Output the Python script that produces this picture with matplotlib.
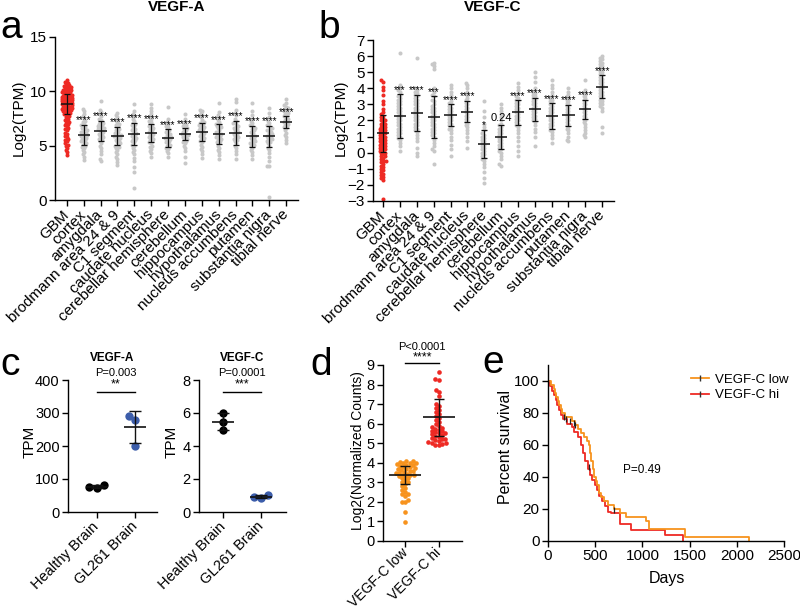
import numpy as np
import matplotlib
matplotlib.use('Agg')
import matplotlib.pyplot as plt
from matplotlib.lines import Line2D

plt.rcParams['font.family'] = ['Liberation Sans', 'DejaVu Sans']

tissues = ['GBM', 'cortex', 'amygdala', 'brodmann area 24 & 9', 'C1 segment',
           'caudate nucleus', 'cerebellar hemisphere', 'cerebellum', 'hippocampus',
           'hypothalamus', 'nucleus accumbens', 'putamen', 'substantia nigra',
           'tibial nerve']

# ---- panel a : VEGF-A log2(TPM) ----
a_gbm = [11.0, 10.9, 10.8, 10.7, 10.6, 10.5, 10.5, 10.4, 10.3, 10.3, 10.2, 10.1, 10.1, 10.0,
         10.0, 9.9, 9.9, 9.8, 9.8, 9.7, 9.7, 9.6, 9.6, 9.5, 9.5, 9.5, 9.4, 9.4, 9.3, 9.3,
         9.3, 9.2, 9.2, 9.1, 9.1, 9.1, 9.0, 9.0, 9.0, 8.9, 8.9, 8.9, 8.8, 8.8, 8.8, 8.7,
         8.7, 8.6, 8.6, 8.6, 8.5, 8.5, 8.4, 8.4, 8.3, 8.3, 8.2, 8.2, 8.1, 8.0, 8.0, 7.9,
         7.8, 7.7, 7.6, 7.5, 7.4, 7.3, 7.2, 7.1, 7.0, 6.9, 6.8, 6.6, 6.5, 6.4, 6.2, 6.1,
         5.9, 5.8, 5.6, 5.5, 5.4, 5.2, 5.1, 5.0, 4.8, 4.6, 4.4, 4.1]
a_cortex = [8.4, 8.2, 7.9, 7.7, 7.5, 7.3, 7.2, 7.0, 6.9, 6.8, 6.7, 6.6, 6.5, 6.4, 6.3, 6.3,
            6.2, 6.1, 6.0, 6.0, 5.9, 5.8, 5.7, 5.6, 5.5, 5.4, 5.3, 5.2, 5.1, 5.0, 4.9, 4.8,
            4.6, 4.4, 4.2, 4.0, 3.7]
a_amygdala = [9.1, 8.3, 8.1, 7.9, 7.7, 7.5, 7.4, 7.2, 7.1, 7.0, 6.9, 6.8, 6.7, 6.6, 6.5, 6.5,
              6.4, 6.3, 6.2, 6.1, 6.0, 5.9, 5.8, 5.7, 5.6, 5.5, 5.4, 5.2, 5.0, 4.8, 4.5, 4.2,
              3.8, 3.6]
a_brodmann = [8.0, 7.8, 7.6, 7.4, 7.2, 7.0, 6.9, 6.8, 6.6, 6.5, 6.4, 6.3, 6.2, 6.1, 6.0, 5.9,
              5.9, 5.8, 5.7, 5.6, 5.5, 5.4, 5.3, 5.2, 5.1, 5.0, 4.9, 4.8, 4.6, 4.4, 4.2, 4.0,
              3.8, 3.5, 3.2]
a_c1 = [8.8, 8.2, 7.9, 7.7, 7.5, 7.3, 7.1, 7.0, 6.9, 6.8, 6.6, 6.5, 6.4, 6.3, 6.2, 6.1, 6.0,
        5.9, 5.8, 5.7, 5.6, 5.5, 5.4, 5.3, 5.1, 5.0, 4.8, 4.6, 4.4, 4.2, 3.9, 3.6, 3.0, 2.6, 1.1]
a_caudate = [8.8, 8.5, 8.2, 7.9, 7.7, 7.5, 7.3, 7.2, 7.0, 6.9, 6.8, 6.7, 6.6, 6.5, 6.4, 6.3,
             6.2, 6.1, 6.0, 5.9, 5.8, 5.7, 5.6, 5.5, 5.4, 5.3, 5.2, 5.0, 4.9, 4.7, 4.5, 4.3, 4.0]
a_cereb_hemi = [8.6, 7.5, 7.2, 7.0, 6.8, 6.7, 6.5, 6.4, 6.3, 6.2, 6.1, 6.0, 5.9, 5.8, 5.7, 5.7,
                5.6, 5.5, 5.4, 5.3, 5.2, 5.1, 5.0, 4.9, 4.8, 4.7, 4.5, 4.3, 4.0]
a_cerebellum = [7.9, 7.5, 7.2, 7.0, 6.9, 6.8, 6.7, 6.6, 6.5, 6.4, 6.3, 6.2, 6.1, 6.0, 6.0, 5.9,
                5.8, 5.7, 5.6, 5.5, 5.4, 5.3, 5.2, 5.0, 4.8, 4.5, 4.0, 3.4]
a_hippo = [8.3, 8.2, 8.0, 7.8, 7.6, 7.4, 7.2, 7.1, 7.0, 6.9, 6.8, 6.7, 6.6, 6.5, 6.4, 6.3, 6.2,
           6.1, 6.0, 5.9, 5.8, 5.7, 5.6, 5.5, 5.4, 5.3, 5.1, 4.9, 4.7, 4.5, 4.2, 3.9]
a_hypo = [8.9, 8.1, 7.8, 7.6, 7.4, 7.2, 7.0, 6.9, 6.8, 6.7, 6.6, 6.4, 6.3, 6.2, 6.1, 6.0, 5.9,
          5.8, 5.7, 5.6, 5.5, 5.4, 5.3, 5.2, 5.0, 4.8, 4.6, 4.4, 4.1, 3.8]
a_nacc = [9.3, 9.0, 8.3, 8.0, 7.8, 7.5, 7.3, 7.1, 7.0, 6.8, 6.7, 6.6, 6.5, 6.4, 6.3, 6.2, 6.1,
          6.0, 5.9, 5.8, 5.7, 5.6, 5.5, 5.4, 5.2, 5.0, 4.8, 4.5, 4.2, 3.8]
a_putamen = [8.9, 8.2, 7.8, 7.5, 7.3, 7.1, 6.9, 6.8, 6.6, 6.5, 6.4, 6.3, 6.2, 6.0, 5.9, 5.8,
             5.7, 5.6, 5.5, 5.4, 5.3, 5.2, 5.1, 5.0, 4.8, 4.6, 4.4, 4.1, 3.8]
a_snigra = [8.5, 8.0, 7.6, 7.3, 7.1, 6.9, 6.8, 6.6, 6.5, 6.4, 6.3, 6.2, 6.1, 6.0, 5.9, 5.8,
            5.7, 5.6, 5.5, 5.4, 5.3, 5.2, 5.0, 4.8, 4.6, 4.3, 4.0, 3.6, 3.1, 3.1, 0.3]
a_tibial = [9.3, 8.9, 8.7, 8.6, 8.5, 8.4, 8.3, 8.2, 8.1, 8.0, 7.9, 7.8, 7.7, 7.6, 7.5, 7.4,
            7.3, 7.2, 7.1, 7.0, 6.9, 6.8, 6.7, 6.6, 6.4, 6.2, 6.0, 5.8, 5.5, 5.2]
a_mean = [8.85, 6.0, 6.35, 5.9, 6.1, 6.15, 5.7, 6.05, 6.25, 6.05, 6.2, 5.85, 5.85, 7.15]
a_sd = [0.95, 0.9, 0.95, 0.85, 1.0, 0.85, 0.8, 0.55, 0.85, 0.9, 1.1, 1.0, 0.95, 0.55]
a_sig = [''] + ['****'] * 13

# ---- panel b : VEGF-C log2(TPM) ----
b_gbm = [4.5, 4.4, 4.1, 3.9, 3.6, 3.2, 3.0, 2.7, 2.5, 2.4, 2.3, 2.2, 2.1, 2.0, 2.0, 1.9, 1.8,
         1.8, 1.7, 1.6, 1.6, 1.5, 1.5, 1.4, 1.4, 1.3, 1.3, 1.2, 1.2, 1.1, 1.1, 1.0, 1.0, 0.9,
         0.9, 0.8, 0.8, 0.7, 0.7, 0.6, 0.6, 0.5, 0.5, 0.4, 0.4, 0.3, 0.3, 0.2, 0.2, 0.1, 0.1,
         0.0, 0.0, -0.1, -0.2, -0.2, -0.3, -0.4, -0.5, -0.5, -0.6, -0.7, -0.8, -0.9, -1.0,
         -1.1, -1.2, -1.3, -1.4, -1.5, -1.6, -1.7, -2.9]
b_cortex = [6.2, 4.2, 4.0, 3.9, 3.8, 3.6, 3.5, 3.4, 3.3, 3.2, 3.1, 3.0, 2.9, 2.8, 2.7, 2.6, 2.5,
            2.4, 2.3, 2.2, 2.1, 2.0, 1.9, 1.8, 1.7, 1.6, 1.5, 1.4, 1.3, 1.2, 1.1, 1.0, 0.9,
            0.8, 0.6, 0.4, 0.1]
b_amygdala = [5.9, 4.0, 3.9, 3.8, 3.7, 3.6, 3.5, 3.4, 3.3, 3.2, 3.1, 3.0, 2.9, 2.8, 2.7, 2.6,
              2.5, 2.4, 2.3, 2.2, 2.1, 2.0, 1.9, 1.8, 1.7, 1.6, 1.5, 1.4, 1.3, 1.1, 0.9, 0.7,
              0.3, 0.0, -0.2]
b_brodmann = [5.6, 5.5, 5.4, 5.2, 4.0, 3.8, 3.6, 3.5, 3.3, 3.2, 3.0, 2.9, 2.8, 2.7, 2.6, 2.5,
              2.4, 2.3, 2.2, 2.1, 2.0, 1.9, 1.8, 1.7, 1.6, 1.5, 1.4, 1.3, 1.2, 1.1, 1.0, 0.8,
              0.6, 0.4, 0.2, 0.1, -0.7]
b_c1 = [4.2, 4.0, 3.8, 3.6, 3.4, 3.2, 3.1, 3.0, 2.9, 2.8, 2.7, 2.6, 2.5, 2.4, 2.3, 2.2, 2.1,
        2.0, 1.9, 1.8, 1.7, 1.6, 1.5, 1.4, 1.2, 1.0, 0.8, 0.5, 0.2, -0.2]
b_caudate = [4.3, 4.2, 4.0, 3.8, 3.6, 3.4, 3.3, 3.2, 3.1, 3.0, 2.9, 2.8, 2.7, 2.6, 2.5, 2.4,
             2.3, 2.2, 2.1, 2.0, 1.9, 1.8, 1.7, 1.6, 1.4, 1.2, 1.0, 0.7, 0.3]
b_cereb_hemi = [3.2, 2.6, 2.2, 1.8, 1.6, 1.4, 1.2, 1.1, 1.0, 0.9, 0.8, 0.7, 0.6, 0.5, 0.4, 0.3,
                0.2, 0.1, 0.0, -0.1, -0.2, -0.3, -0.4, -0.5, -0.7, -0.9, -1.2, -1.6, -1.9]
b_cerebellum = [3.0, 2.8, 2.6, 2.4, 2.2, 2.0, 1.8, 1.7, 1.6, 1.5, 1.4, 1.3, 1.2, 1.1, 1.0, 0.9,
                0.8, 0.7, 0.6, 0.5, 0.4, 0.3, 0.2, 0.1, 0.0, -0.2, -0.4, -0.7, -0.8]
b_hippo = [4.3, 4.1, 3.9, 3.7, 3.5, 3.4, 3.3, 3.2, 3.1, 3.0, 2.9, 2.8, 2.7, 2.6, 2.5, 2.4, 2.3,
           2.2, 2.1, 2.0, 1.9, 1.8, 1.7, 1.6, 1.4, 1.2, 1.0, 0.7, 0.4, 0.1, -0.2]
b_hypo = [5.0, 4.7, 4.4, 4.0, 3.8, 3.7, 3.6, 3.5, 3.4, 3.3, 3.2, 3.1, 3.0, 2.9, 2.8, 2.7, 2.6,
          2.5, 2.4, 2.3, 2.2, 2.1, 2.0, 1.9, 1.7, 1.5, 1.3, 1.0, 0.4]
b_nacc = [4.5, 4.2, 4.0, 3.8, 3.6, 3.4, 3.3, 3.2, 3.1, 3.0, 2.9, 2.8, 2.7, 2.6, 2.5, 2.4, 2.3,
          2.2, 2.1, 2.0, 1.9, 1.8, 1.7, 1.6, 1.5, 1.4, 1.3, 1.1, 0.9, 0.6]
b_putamen = [4.0, 3.8, 3.6, 3.5, 3.4, 3.3, 3.2, 3.1, 3.0, 2.9, 2.8, 2.7, 2.6, 2.5, 2.4, 2.3,
             2.2, 2.1, 2.0, 1.9, 1.8, 1.7, 1.6, 1.5, 1.4, 1.2, 1.0, 0.8, 0.7]
b_snigra = [4.5, 3.9, 3.7, 3.6, 3.5, 3.4, 3.3, 3.2, 3.1, 3.0, 2.9, 2.8, 2.7, 2.6, 2.5, 2.4, 2.3,
            2.2, 2.1, 2.0, 1.9, 1.8, 1.6, 1.4, 1.2, 1.1, 1.0]
b_tibial = [6.0, 5.9, 5.8, 5.7, 5.6, 5.5, 5.4, 5.3, 5.2, 5.1, 5.0, 4.9, 4.8, 4.7, 4.6, 4.5, 4.4,
            4.3, 4.2, 4.1, 4.0, 3.9, 3.8, 3.7, 3.6, 3.5, 3.4, 3.3, 3.2, 3.1, 3.0, 2.9, 2.8,
            2.6, 1.6, 1.2]
b_mean = [1.2, 2.28, 2.45, 2.2, 2.34, 2.55, 0.54, 0.96, 2.5, 2.7, 2.26, 2.32, 2.7, 4.1]
b_sd = [1.15, 1.35, 1.13, 1.3, 0.66, 0.65, 0.86, 0.76, 0.75, 0.72, 0.81, 0.64, 0.6, 0.7]
b_sig = ['', '***', '****', '***', '****', '****', '*', '0.24', '****', '****', '****',
         '****', '****', '****']

# ---- panel c : mouse TPM ----
c_groups = ['Healthy Brain', 'GL261 Brain']
ca_healthy = [72, 81, 75]
ca_gl261 = [292, 278, 201]
ca_mean = [76, 257]
ca_sd = [4.6, 49]
cc_healthy = [6.0, 5.45, 4.95]
cc_gl261 = [0.85, 1.05, 0.9]
cc_mean = [5.47, 0.93]
cc_sd = [0.5, 0.1]

# ---- panel d : log2 normalized counts ----
d_groups = ['VEGF-C low', 'VEGF-C hi']
d_low = [4.1, 4.1, 4.05, 4.0, 4.0, 4.0, 3.95, 3.9, 3.9, 3.85, 3.8, 3.8, 3.75, 3.7, 3.7, 3.65,
         3.6, 3.6, 3.55, 3.5, 3.5, 3.45, 3.4, 3.4, 3.35, 3.3, 3.3, 3.2, 3.2, 3.1, 3.0, 3.0,
         2.9, 2.8, 2.7, 2.6, 2.5, 2.4, 2.4, 2.3, 2.1, 2.0, 2.0, 1.5, 0.95]
d_hi = [8.65, 8.3, 8.25, 7.7, 7.6, 7.4, 7.0, 6.9, 6.8, 6.7, 6.6, 6.5, 6.4, 6.3, 6.2, 6.1, 6.0,
        5.9, 5.85, 5.8, 5.75, 5.7, 5.65, 5.6, 5.55, 5.5, 5.5, 5.45, 5.4, 5.35, 5.3, 5.25, 5.2,
        5.2, 5.15, 5.1, 5.05, 5.0, 5.0, 4.95, 4.9, 4.9]
d_mean = [3.37, 6.32]
d_sd = [0.47, 0.95]

# ---- panel e : Kaplan-Meier ----
km_low_days = [0, 30, 60, 75, 90, 105, 120, 135, 150, 175, 250, 290, 320, 350, 380, 410, 430,
               445, 460, 475, 490, 505, 520, 540, 560, 590, 640, 700, 760, 830, 1040, 1065,
               1455, 2125]
km_low_pct = [100, 97.5, 95, 92.5, 90, 87.5, 85, 82.5, 80, 77.5, 75, 72.5, 70, 67.5, 65, 62.5,
              60, 55, 50, 45, 40, 37.5, 35, 30, 27.5, 25, 22.5, 20, 17.5, 15, 12.5, 7.5, 2.5, 0]
km_hi_days = [0, 20, 40, 60, 80, 100, 120, 140, 160, 200, 250, 280, 320, 350, 370, 390, 420,
              450, 470, 500, 520, 540, 570, 600, 640, 665, 765, 880, 1235, 1430]
km_hi_pct = [100, 97, 94, 91, 88, 85, 82, 79, 76, 73, 71, 68, 65, 60, 55, 50, 45, 41, 38, 35,
             32, 28, 25, 22, 18, 17.7, 10.5, 7, 3.5, 0]
censor_days = [165, 195, 230, 275, 290, 430, 700]
censor_pct = [77.5, 76, 75, 73.5, 72.5, 46.5, 19.5]

RED = '#EE2A24'
GRAY = '#C8C8C8'
ORANGE = '#F7931E'
BLUE = '#3C5DAA'

W, H = 800, 611
fig = plt.figure(figsize=(W / 100, H / 100), dpi=100)


def px_ax(l, t, r, b):
    return fig.add_axes([l / W, 1 - b / H, (r - l) / W, (b - t) / H])


def ftext(x, y, s, **kw):
    fig.text(x / W, 1 - y / H, s, **kw)


def style(ax, size=11):
    for s in ['top', 'right']:
        ax.spines[s].set_visible(False)
    for s in ['left', 'bottom']:
        ax.spines[s].set_linewidth(1.0)
    ax.tick_params(direction='out', length=4, width=1.0, labelsize=size, pad=2)


def swarm(vals, ppu, d, half):
    # horizontal offsets (px) so that dots of diameter d do not overlap
    y = np.asarray(vals, float) * ppu
    out = np.zeros(len(y))
    px, py = [], []
    for i in np.argsort(y):
        nb = [(a, b) for a, b in zip(px, py) if abs(b - y[i]) < d]
        cands = [0.0]
        for a, b in nb:
            dx = np.sqrt(d * d - (b - y[i]) ** 2)
            cands += [a - dx, a + dx]
        cands = sorted(cands, key=abs)
        best = None
        for c in cands:
            if abs(c) <= half and all((c - a) ** 2 + (y[i] - b) ** 2 >= d * d - 1e-6 for a, b in nb):
                best = c
                break
        if best is None:
            grid = np.linspace(-half, half, 9)
            score = [min([(g - a) ** 2 + (y[i] - b) ** 2 for a, b in nb] + [1e9]) for g in grid]
            best = grid[int(np.argmax(score))]
        out[i] = best
        px.append(best)
        py.append(y[i])
    return out


def tissue_panel(ax, groups, means, sds, sig, ppu, ppx, red_half):
    for i, vals in enumerate(groups):
        off = swarm(vals, ppu, 2.4, red_half if i == 0 else 6.0) / ppx
        ax.scatter(i + off, vals, s=8.5, color=RED if i == 0 else GRAY, lw=0, zorder=2, clip_on=False)
    x = np.arange(len(groups))
    ax.errorbar(x, means, yerr=sds, fmt='none', ecolor='#111111', elinewidth=0.9,
                capsize=2.4, capthick=0.9, zorder=3)
    ax.hlines(means, x - 0.36, x + 0.36, color='#111111', lw=1.1, zorder=3)
    for i, lab in enumerate(sig):
        if not lab:
            continue
        if lab[0] == '*':
            ax.annotate(lab, (i, means[i] + sds[i]), xytext=(0, 1.2), textcoords='offset points',
                        ha='center', va='baseline', fontsize=7)
        else:
            ax.annotate(lab, (i, means[i] + sds[i]), xytext=(0, 1.5), textcoords='offset points',
                        ha='center', va='bottom', fontsize=8)
    ax.set_xticks(x)
    ax.set_xticklabels(tissues, rotation=45, ha='right', va='center', rotation_mode='anchor')


# panel a
ax = px_ax(55, 37, 298, 200)
style(ax)
tissue_panel(ax, [a_gbm, a_cortex, a_amygdala, a_brodmann, a_c1, a_caudate, a_cereb_hemi,
                  a_cerebellum, a_hippo, a_hypo, a_nacc, a_putamen, a_snigra, a_tibial],
             a_mean, a_sd, a_sig, 163 / 15, 16.85, 5.0)
ax.set_xlim(-0.7, 13.7)
ax.set_ylim(0, 15)
ax.set_yticks([0, 5, 10, 15])
ax.tick_params(axis='x', pad=5)

# panel b
ax = px_ax(373, 40, 614, 201)
style(ax)
tissue_panel(ax, [b_gbm, b_cortex, b_amygdala, b_brodmann, b_c1, b_caudate, b_cereb_hemi,
                  b_cerebellum, b_hippo, b_hypo, b_nacc, b_putamen, b_snigra, b_tibial],
             b_mean, b_sd, b_sig, 161 / 10, 16.83, 6.5)
ax.set_xlim(-0.6, 13.7)
ax.set_ylim(-3, 7)
ax.set_yticks(range(-3, 8))
ax.tick_params(axis='x', pad=5)


def dot_panel(ax, groups, colors, means, sds, ppu, ppx, d, half, s, mhalf, cap):
    for i, vals in enumerate(groups):
        off = swarm(vals, ppu, d, half) / ppx
        ax.scatter(i + off, vals, s=s, color=colors[i], lw=0, zorder=2, clip_on=False)
    x = np.arange(len(groups))
    ax.errorbar(x, means, yerr=sds, fmt='none', ecolor='#111111', elinewidth=1.0,
                capsize=cap, capthick=1.0, zorder=3)
    ax.hlines(means, x - mhalf, x + mhalf, color='#111111', lw=1.2, zorder=3)


def sig_bar(ax, y_line, y_star, y_p, stars, ptxt, fs):
    ax.plot([0, 1], [y_line, y_line], color='k', lw=1.0, clip_on=False)
    ax.text(0.5, y_star, stars, ha='center', va='center', fontsize=fs + 1, clip_on=False)
    ax.text(0.5, y_p, ptxt, ha='center', va='center', fontsize=fs, clip_on=False)


# panel c, VEGF-A
ax = px_ax(68, 380, 157, 512)
style(ax, 10.5)
dot_panel(ax, [ca_healthy, ca_gl261], ['k', BLUE], ca_mean, ca_sd, 132 / 400, 38, 7.5, 11, 36, 0.29, 4)
ax.set_xlim(-0.76, 1.58)
ax.set_ylim(0, 400)
ax.set_yticks([0, 100, 200, 300, 400])
ax.set_xticks([0, 1])
ax.set_xticklabels(c_groups, rotation=45, ha='right', va='center', rotation_mode='anchor')
ax.tick_params(axis='x', pad=5)
sig_bar(ax, 365, 387, 421, '**', 'P=0.003', 8)
ax.set_title('VEGF-A', fontsize=8.5, fontweight='bold', pad=14)

# panel c, VEGF-C
ax = px_ax(199, 380, 286, 512)
style(ax, 10.5)
dot_panel(ax, [cc_healthy, cc_gl261], ['k', BLUE], cc_mean, cc_sd, 132 / 8, 37.7, 7.5, 11, 36, 0.29, 4)
ax.set_xlim(-0.64, 1.66)
ax.set_ylim(0, 8)
ax.set_yticks([0, 2, 4, 6, 8])
ax.set_xticks([0, 1])
ax.set_xticklabels(c_groups, rotation=45, ha='right', va='center', rotation_mode='anchor')
ax.tick_params(axis='x', pad=5)
sig_bar(ax, 7.3, 7.73, 8.42, '***', 'P=0.0001', 8)
ax.set_title('VEGF-C', fontsize=8.5, fontweight='bold', pad=14)

# panel d
ax = px_ax(383, 365, 462, 541)
style(ax, 10.5)
dot_panel(ax, [d_low, d_hi], [ORANGE, RED], d_mean, d_sd, 176 / 9, 33, 3.6, 16, 11, 0.48, 3.6)
ax.set_xlim(-0.67, 1.7)
ax.set_ylim(0, 9)
ax.set_yticks(range(10))
ax.set_xticks([0, 1])
ax.set_xticklabels(d_groups, rotation=45, ha='right', va='center', rotation_mode='anchor',
                   fontsize=10)
ax.tick_params(axis='x', pad=3)
sig_bar(ax, 9.12, 9.4, 9.9, '****', 'P<0.0001', 8)

# panel e
ax = px_ax(548, 365, 784, 541)
style(ax)
ax.step(km_hi_days, km_hi_pct, where='post', color=RED, lw=1.3)
ax.step(km_low_days, km_low_pct, where='post', color=ORANGE, lw=1.3)
ax.plot(censor_days, censor_pct, ls='none', marker='|', ms=4, mew=0.9, color='#222222')
ax.set_xlim(0, 2500)
ax.set_ylim(0, 110)
ax.set_xticks([0, 500, 1000, 1500, 2000, 2500])
ax.set_yticks([0, 20, 40, 60, 80, 100])
ax.text(795, 44.4, 'P=0.49', va='center', fontsize=8.5)
handles = [Line2D([], [], color=ORANGE, lw=1.3, marker='|', ms=4, mec='#333333'),
           Line2D([], [], color=RED, lw=1.3, marker='|', ms=4, mec='#333333')]
ax.legend(handles, ['VEGF-C low', 'VEGF-C hi'], loc='upper left', bbox_to_anchor=(0.58, 0.99),
          frameon=False, fontsize=9.5, handlelength=1.3, handletextpad=0.5,
          labelspacing=0.25, borderpad=0)

# axis labels
ftext(19, 118, 'Log2(TPM)', rotation=90, ha='center', va='center', fontsize=11)
ftext(341, 118, 'Log2(TPM)', rotation=90, ha='center', va='center', fontsize=11)
ftext(30, 442, 'TPM', rotation=90, ha='center', va='center', fontsize=11)
ftext(172, 442, 'TPM', rotation=90, ha='center', va='center', fontsize=11)
ftext(358, 451, 'Log2(Normalized Counts)', rotation=90, ha='center', va='center', fontsize=10)
ftext(506, 447, 'Percent survival', rotation=90, ha='center', va='center', fontsize=11.5)
ftext(667, 578, 'Days', ha='center', va='center', fontsize=11.5)

# titles and panel letters
ftext(177, 7, 'VEGF-A', ha='center', va='center', fontsize=11, fontweight='bold')
ftext(493, 7, 'VEGF-C', ha='center', va='center', fontsize=11, fontweight='bold')
for x, y, s in [(0, 38, 'a'), (318, 38, 'b'), (0, 375, 'c'), (310, 375, 'd'), (482, 373, 'e')]:
    ftext(x, y, s, ha='left', va='baseline', fontsize=28)

fig.savefig('out.png', dpi=100)
